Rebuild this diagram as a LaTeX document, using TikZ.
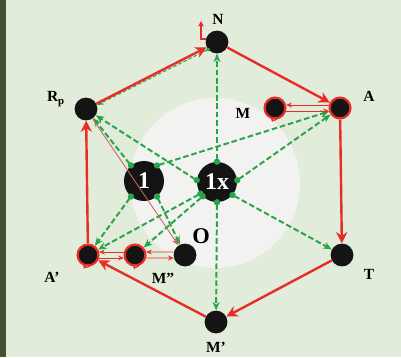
\documentclass[tikz,border=0pt]{standalone}
\usepackage{fontspec}
\setmainfont{Liberation Serif}
\usepackage{tikz}
\usetikzlibrary{positioning, arrows.meta}
\definecolor{stripe}{RGB}{67, 82, 48}
\definecolor{paper}{RGB}{225, 236, 218}
\definecolor{glow}{RGB}{242, 243, 240}
\definecolor{hexred}{RGB}{232, 44, 38}
\definecolor{thinred}{RGB}{205, 100, 90}
\definecolor{dashgreen}{RGB}{40, 165, 72}

\begin{document}
\begin{tikzpicture}[x=0.025cm, y=-0.025cm, >=Stealth,
    blob/.style={circle, fill=black!92, minimum size=0.57cm, inner sep=0pt},
    ringed/.style={blob, draw=hexred, line width=1.6pt, minimum size=0.52cm},
    bigblob/.style={circle, fill=black!92, minimum size=1cm, inner sep=0pt, text=white, font=\fontsize{17}{17}\selectfont\bfseries},
    lab/.style={font=\fontsize{11}{13}\selectfont\bfseries},
    loop/.style={hexred, line width=1.7pt, -{Stealth[length=8pt, width=8pt]}},
    shuttle/.style={hexred, line width=0.6pt, -{Stealth[length=4pt, width=3.5pt]}},
    tick/.style={hexred, line width=0.7pt, -{Stealth[length=2.5pt, width=2.5pt]}},
    link/.style={dashgreen, line width=1.4pt, dash pattern=on 4pt off 2pt, shorten <=-2.2pt, {Circle[length=4.4pt]}-{Stealth[length=6pt, width=5pt]}},
    faint/.style={dashgreen, line width=0.7pt, dash pattern=on 2.5pt off 1.5pt, shorten <=-1.4pt, {Circle[length=2.8pt]}-{Stealth[length=5pt, width=4pt]}}]
    % background
    \fill[paper] (0,0) rectangle (401,357);
    \fill[stripe] (0,0) rectangle (6,357);
    \fill[glow] (215,183) circle (85);
    % states
    \node[blob] (N) at (217,42) {};
    \node[ringed] (A) at (340,108) {};
    \node[ringed] (M) at (275,108) {};
    \node[blob] (Rp) at (86,109) {};
    \node[bigblob] (one) at (144,181) {1};
    \node[bigblob] (onex) at (217,182) {1x};
    \node[ringed] (Ap) at (88,255) {};
    \node[ringed] (Mpp) at (135,255) {};
    \node[blob] (O) at (185,255) {};
    \node[blob] (T) at (342,255) {};
    \node[blob] (Mp) at (216,322) {};
    % labels
    \node[lab] (Nlab) at (218,19) {N};
    \node[lab] (Alab) at (369,96) {A};
    \node[lab] (Mlab) at (243,113) {M};
    \node[lab] (Rplab) at (56,99) {R\textsubscript{p}};
    \node[font=\fontsize{16}{16}\selectfont\bfseries] (Olab) at (201,236) {O};
    \node[lab] (Tlab) at (369,274) {T};
    \node[lab] (Aplab) at (52,277) {A'};
    \node[lab] (Mpplab) at (163,278) {M''};
    \node[lab] (Mplab) at (216,347) {M'};
    % green links
    \draw[faint] (N.220) -- (Rp.20);
    \draw[link] (onex.90) -- (N);
    \draw[link] (onex.270) -- (Mp);
    \draw[link] (onex.-40) -- (T);
    \draw[link] (onex.5) -- (A);
    \draw[link] (onex.175) -- (Rp);
    \draw[link] (onex.215) -- (Ap);
    \draw[link] (onex.225) -- (Mpp);
    \draw[link] (one.130) -- (Rp);
    \draw[link] (one.50) -- (A);
    \draw[link] (one.230) -- (Ap);
    \draw[link] (one.310) -- (O);
    % red cycle
    \draw[loop] (Rp) -- (N);
    \draw[loop] (N) -- (A);
    \draw[loop] (A) -- (T);
    \draw[loop] (T) -- (Mp);
    \draw[loop] (Mp) -- (Ap);
    \draw[loop] (Ap) -- (Rp);
    \draw[hexred, line width=0.9pt, -{Stealth[length=4pt, width=4pt]}] (N.165) -| (201,21);
    \draw[thinred, line width=0.6pt, -{Stealth[length=5pt, width=4pt]}] (Rp) -- (O);
    % exchanges
    \draw[shuttle] (A.165) -- (M.15);
    \draw[shuttle] (M.-15) -- (A.-165);
    \draw[shuttle] (Mpp.165) -- (Ap.15);
    \draw[shuttle] (Ap.-15) -- (Mpp.-165);
    \draw[shuttle] (O.165) -- (Mpp.15);
    \draw[shuttle] (Mpp.-15) -- (O.-165);
    % small turns under the ringed states
    \draw[tick] (M.280) to[bend left=40] (M.250);
    \draw[tick] (Ap.280) to[bend left=40] (Ap.245);
    \draw[tick] (Mpp.290) to[bend left=40] (Mpp.260);
\end{tikzpicture}
\end{document}
